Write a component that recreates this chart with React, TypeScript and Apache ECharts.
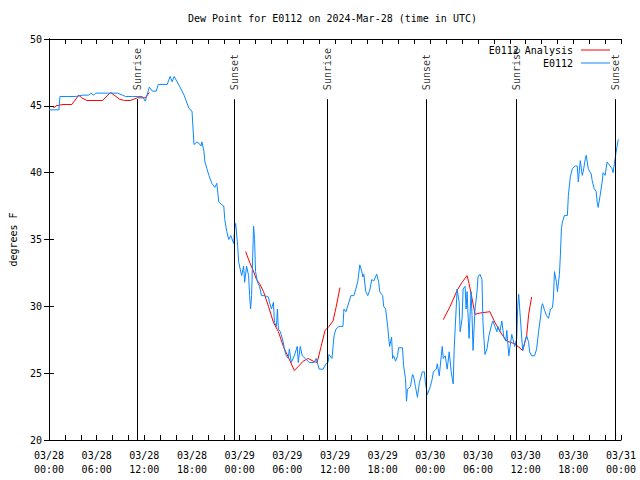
import React, { useEffect, useRef } from "react";
import * as echarts from "echarts";

// Hours since 2024-03-28 00:00 UTC
const xTickLabels = [
  "03/28\n00:00", "03/28\n06:00", "03/28\n12:00", "03/28\n18:00",
  "03/29\n00:00", "03/29\n06:00", "03/29\n12:00", "03/29\n18:00",
  "03/30\n00:00", "03/30\n06:00", "03/30\n12:00", "03/30\n18:00",
  "03/31\n00:00",
];

const sunEventHours = [11.125, 23.375, 35, 47.5, 58.875, 71.25];
const sunEventNames = ["Sunrise", "Sunset", "Sunrise", "Sunset", "Sunrise", "Sunset"];

const analysisSeg1: [number, number][] = [
  [0.5, 44.9], [0.75, 44.9], [0.875, 45.0], [1.75, 45.1], [2.875, 45.1], [3.75, 45.8],
  [4.125, 45.6], [4.75, 45.4], [6.75, 45.4], [7.75, 46.0], [8.875, 45.5], [9.5, 45.4],
  [10.25, 45.4], [11.125, 45.6], [12.125, 45.6], [12.625, 46.0],
];
const analysisSeg2: [number, number][] = [
  [24.75, 34.1], [25.25, 33.3], [25.625, 32.8], [26.125, 32.0], [26.5, 31.7], [27, 31.1],
  [27.625, 30.0], [28.25, 28.8], [28.875, 28.1], [29.5, 27.0], [30.125, 26.2], [30.875, 25.2],
  [31.375, 25.5], [32, 25.9], [32.625, 26.1], [33.25, 25.9], [33.75, 25.8], [34.25, 27.0],
  [34.75, 28.2], [35.25, 28.5], [35.75, 28.9], [36.125, 29.9], [36.625, 31.4],
];
const analysisSeg3: [number, number][] = [
  [49.625, 29.0], [50.5, 30.0], [51.375, 31.2], [52, 31.8], [52.625, 32.3], [52.875, 31.7],
  [53.25, 30.6], [53.625, 29.4], [54.25, 29.5], [55.5, 29.6], [56.125, 28.8], [57, 27.9],
  [57.625, 27.4], [58.625, 27.2], [59.625, 26.7], [60.125, 27.8], [60.375, 29.4], [60.75, 30.7],
];

const observed: [number, number][] = [
  [0, 44.7], [0.5, 44.7], [1.25, 44.7], [1.375, 45.7], [2.375, 45.7], [3.375, 45.7],
  [4.25, 45.8], [5, 45.8], [5.25, 45.95], [5.625, 45.8], [5.875, 45.95], [7.375, 45.95],
  [8.625, 45.95], [9.25, 45.8], [9.625, 45.7], [10.5, 45.7], [11.75, 45.7], [12.125, 45.35],
  [12.625, 46.4], [13, 46.1], [13.5, 46.1], [13.75, 46.6], [14.25, 46.6], [14.875, 46.6],
  [15.25, 47.2], [15.5, 46.8], [15.75, 47.2], [16.125, 46.8], [16.5, 46.4], [17, 45.8],
  [17.375, 45.2], [17.625, 44.8], [18, 44.6], [18.25, 42.1], [18.625, 42.3], [18.875, 42.2],
  [19.125, 42.0], [19.25, 42.3], [19.5, 41.6], [19.625, 40.8], [19.875, 40.3], [20.125, 39.8],
  [20.5, 39.2], [20.875, 38.9], [21.125, 39.2], [21.375, 37.8], [21.75, 37.6], [22, 37.5],
  [22.125, 36.5], [22.375, 35.6], [22.625, 35.0], [22.875, 35.3], [23.25, 34.7], [23.375, 35.8],
  [23.5, 36.2], [23.75, 34.5], [23.875, 33.3], [24.25, 32.3], [24.5, 33.0], [24.625, 31.8],
  [24.875, 33.0], [25.125, 32.3], [25.25, 30.8], [25.375, 29.8], [25.5, 30.8], [25.75, 36.0],
  [25.875, 35.0], [26, 32.6], [26.25, 31.8], [26.5, 31.5], [26.75, 30.8], [27.125, 30.8],
  [27.625, 30.7], [27.75, 30.3], [28, 29.8], [28.25, 30.3], [28.375, 28.8], [28.625, 28.5],
  [28.75, 29.8], [28.875, 28.3], [29.125, 28.1], [29.5, 27.3], [29.625, 26.8], [29.875, 26.3],
  [30.125, 26.1], [30.25, 26.8], [30.5, 25.8], [30.875, 26.3], [31.25, 27.0], [31.375, 25.8],
  [31.625, 27.0], [31.875, 26.3], [32.25, 26.1], [32.75, 25.8], [33.375, 25.8], [33.625, 26.1],
  [33.875, 25.6], [34, 25.3], [34.5, 25.3], [34.875, 25.7], [35.125, 25.8], [35.25, 26.4],
  [35.625, 26.1], [35.875, 27.8], [36.125, 28.3], [36.5, 28.5], [37, 28.5], [37.125, 29.8],
  [37.375, 29.6], [37.75, 30.3], [38, 30.8], [38.375, 30.8], [38.625, 31.3], [38.875, 31.9],
  [39.125, 33.1], [39.375, 32.6], [39.5, 32.2], [39.625, 32.4], [39.875, 31.1], [40.125, 30.8],
  [40.375, 31.2], [40.625, 32.0], [40.875, 31.9], [41.25, 32.4], [41.5, 31.8], [41.625, 31.1],
  [42, 30.8], [42.125, 30.0], [42.375, 29.8], [42.625, 28.5], [42.875, 27.0], [43.125, 27.7],
  [43.25, 26.1], [43.375, 26.3], [43.625, 25.9], [43.875, 26.3], [44, 26.9], [44.5, 26.9],
  [44.625, 25.6], [44.875, 24.6], [45, 22.9], [45.125, 23.8], [45.5, 24.0], [45.75, 24.9],
  [45.875, 24.8], [46.125, 24.0], [46.375, 23.2], [46.625, 24.3], [47, 25.1], [47.25, 25.1],
  [47.375, 24.3], [47.625, 23.4], [48, 24.0], [48.25, 24.6], [48.375, 25.1], [48.75, 25.3],
  [48.875, 25.7], [49.125, 24.8], [49.375, 26.3], [49.5, 27.0], [49.625, 26.1], [49.875, 26.3],
  [50.125, 25.3], [50.375, 26.6], [50.625, 25.1], [50.875, 24.2], [51, 26.8], [51.25, 29.8],
  [51.375, 31.3], [51.625, 30.3], [51.75, 28.1], [52, 29.1], [52.125, 31.3], [52.375, 31.5],
  [52.5, 29.8], [52.625, 31.1], [52.875, 27.6], [53.125, 31.1], [53.25, 29.3], [53.375, 26.7],
  [53.625, 29.8], [53.875, 31.1], [54, 32.2], [54.25, 32.4], [54.5, 32.0], [54.625, 28.8],
  [54.875, 26.4], [55.125, 26.8], [55.375, 27.8], [55.75, 28.7], [55.875, 28.9], [56.125, 28.5],
  [56.375, 28.1], [56.5, 28.5], [56.75, 28.1], [57, 28.9], [57.25, 27.7], [57.5, 27.4],
  [57.625, 28.2], [57.875, 26.3], [58.25, 27.9], [58.375, 27.6], [58.625, 27.0], [58.875, 27.6],
  [59, 30.0], [59.125, 30.9], [59.25, 29.8], [59.5, 27.7], [59.625, 26.7], [59.875, 27.3],
  [60.125, 27.8], [60.375, 27.3], [60.5, 26.6], [60.75, 26.3], [61.125, 26.3], [61.375, 26.8],
  [61.625, 28.1], [61.875, 29.2], [62, 30.0], [62.125, 30.2], [62.375, 29.7], [62.625, 29.3],
  [62.875, 29.1], [63.125, 29.8], [63.375, 29.9], [63.5, 30.7], [63.625, 32.6], [63.875, 31.8],
  [64, 31.1], [64.25, 32.4], [64.375, 33.9], [64.5, 35.8], [64.625, 36.3], [64.875, 36.8],
  [65.25, 36.8], [65.375, 38.3], [65.625, 39.7], [65.875, 40.3], [66.25, 40.5], [66.5, 40.5],
  [66.625, 39.3], [66.875, 40.9], [67.125, 39.8], [67.25, 40.1], [67.5, 41.0], [67.625, 41.3],
  [67.875, 40.3], [68.25, 39.9], [68.375, 39.4], [68.625, 38.8], [68.875, 38.6], [69, 37.8],
  [69.125, 37.4], [69.375, 38.3], [69.625, 39.3], [69.75, 40.0], [70, 39.8], [70.25, 40.8],
  [70.5, 40.6], [70.875, 40.3], [71, 40.0], [71.25, 41.0], [71.375, 41.5], [71.625, 42.4],
  [71.75, 42.5],
];

const FONT = "'DejaVu Sans Mono', 'Liberation Mono', monospace";

export default function App() {
  const ref = useRef<HTMLDivElement>(null);
  useEffect(() => {
    if (!ref.current) return;
    const chart = echarts.init(ref.current, null, { renderer: "svg" });
    const gap: any = ["-", "-"];
    const analysisData: any[] = [
      ...analysisSeg1, [18, "-"], ...analysisSeg2, [43, "-"], ...analysisSeg3,
    ];
    void gap;
    const tickCommon = {
      axisLine: { show: true, lineStyle: { color: "#000", width: 1 } },
      axisTick: { show: true, inside: true, length: 5, lineStyle: { color: "#000" } },
      splitLine: { show: false },
    };
    const xBase = {
      type: "value" as const,
      min: 0,
      max: 72,
      interval: 6,
      ...tickCommon,
      minorTick: { show: true, splitNumber: 3, length: 5, lineStyle: { color: "#000" } },
      minorSplitLine: { show: false },
    };
    const yBase = {
      type: "value" as const,
      min: 20,
      max: 50,
      interval: 5,
      ...tickCommon,
    };
    const legendCommon = {
      orient: "vertical" as const,
      align: "right" as const,
      icon: "rect",
      itemWidth: 29,
      itemHeight: 1,
      padding: 0,
      right: 30,
      selectedMode: false,
      textStyle: { fontFamily: FONT, fontSize: 10, color: "#000", padding: [0, 3, 0, 0] },
    };
    chart.setOption({
      animation: false,
      backgroundColor: "#fff",
      title: {
        text: "Dew Point for E0112 on 2024-Mar-28 (time in UTC)",
        left: 188,
        top: 13,
        padding: 0,
        textStyle: { fontFamily: FONT, fontSize: 10, fontWeight: "normal", color: "#000" },
      },
      legend: [
        { ...legendCommon, data: ["E0112 Analysis"], top: 45 },
        { ...legendCommon, data: ["E0112"], top: 58 },
      ],
      grid: { left: 46, right: 19, top: 39, bottom: 40, containLabel: false },
      xAxis: [
        {
          ...xBase,
          position: "bottom",
          axisLabel: {
            show: true,
            fontFamily: FONT,
            fontSize: 10,
            color: "#000",
            margin: 8,
            lineHeight: 14,
            formatter: (v: number) => xTickLabels[Math.round(v / 6)] ?? "",
          },
        },
        { ...xBase, position: "top", axisLabel: { show: false } },
      ],
      yAxis: [
        {
          ...yBase,
          position: "left",
          name: "degrees F",
          nameLocation: "middle",
          nameRotate: 90,
          nameGap: 31,
          nameTextStyle: { fontFamily: FONT, fontSize: 10, color: "#000" },
          axisLabel: { show: true, fontFamily: FONT, fontSize: 10, color: "#000", margin: 7 },
        },
        { ...yBase, position: "right", axisLabel: { show: false } },
      ],
      series: [
        {
          name: "E0112 Analysis",
          type: "line",
          xAxisIndex: 0,
          yAxisIndex: 0,
          data: analysisData,
          showSymbol: false,
          symbol: "none",
          connectNulls: false,
          lineStyle: { color: "#ff0000", width: 1 },
          itemStyle: { color: "#ff0000" },
        },
        {
          name: "E0112",
          type: "line",
          xAxisIndex: 0,
          yAxisIndex: 0,
          data: observed,
          showSymbol: false,
          symbol: "none",
          lineStyle: { color: "#0a88ff", width: 1 },
          itemStyle: { color: "#0a88ff" },
        },
        {
          name: "sun",
          type: "scatter",
          xAxisIndex: 0,
          yAxisIndex: 0,
          silent: true,
          symbolSize: 1,
          itemStyle: { color: "rgba(0,0,0,0)" },
          data: sunEventHours.map((h, i) => ({ value: [h, 46.1], name: sunEventNames[i] })),
          label: {
            show: true,
            position: "inside",
            rotate: 90,
            align: "left",
            verticalAlign: "middle",
            formatter: (p: any) => p.name,
            fontFamily: FONT,
            fontSize: 10,
            color: "#000",
            offset: [1, 0],
          },
          markLine: {
            silent: true,
            symbol: ["none", "none"],
            label: { show: false },
            lineStyle: { color: "#000", width: 1, type: "solid" },
            data: sunEventHours.map((h) => [{ coord: [h, 20] }, { coord: [h, 45.5] }]),
          },
        },
      ],
    });
    return () => chart.dispose();
  }, []);
  return (
    <div
      ref={ref}
      style={{ position: "absolute", left: 0, top: 0, width: 640, height: 480 }}
    />
  );
}
